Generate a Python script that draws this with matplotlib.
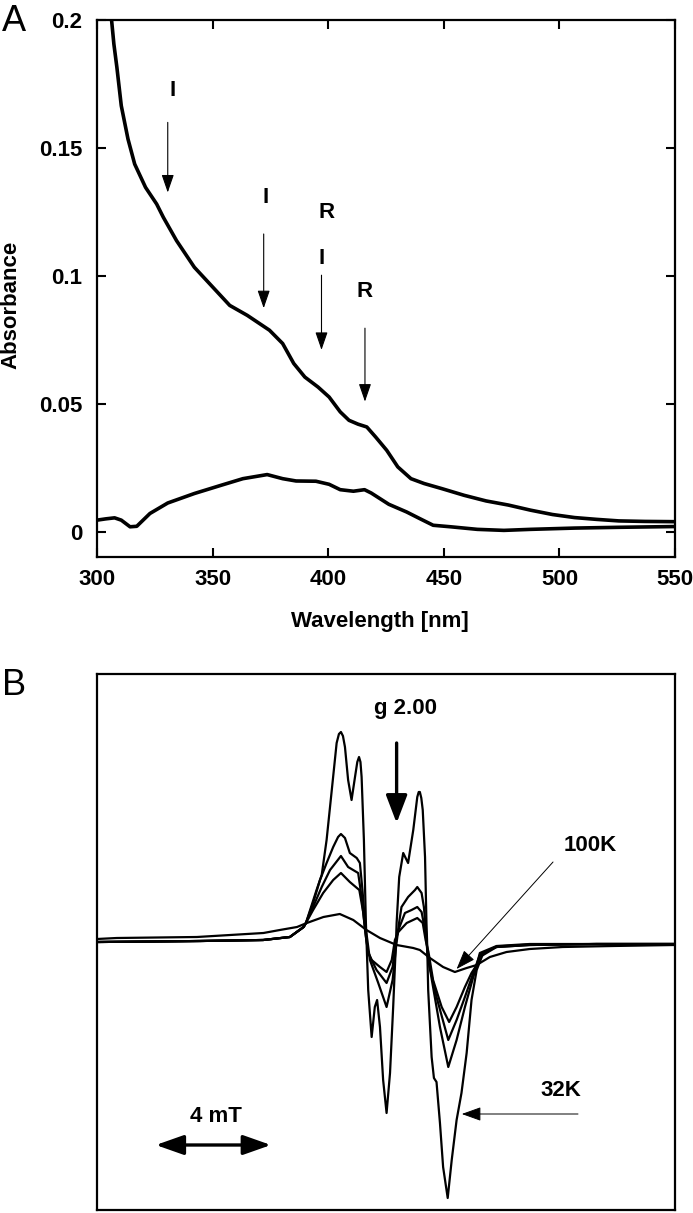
import matplotlib
matplotlib.use('Agg')
import matplotlib.pyplot as plt

plt.rcParams['font.family'] = ['Liberation Sans', 'DejaVu Sans']

# ---------------- Panel A data (UV-vis) ----------------
wl_upper = [305.5, 306.3, 307.3, 308.6, 310.5, 313.4, 316.3, 321.0, 325.8, 328.7, 334.4,
            342.1, 349.7, 357.4, 365.0, 374.6, 380.3, 385.1, 389.9, 395.6, 400.4, 405.2,
            409.0, 412.9, 416.7, 420.5, 425.3, 430.1, 435.8, 441.5, 449.2, 458.8, 468.3,
            477.9, 487.5, 497.0, 506.6, 516.1, 525.7, 537.0, 550.0]
abs_upper = [0.206, 0.200, 0.1906, 0.1815, 0.1665, 0.1535, 0.1437, 0.1346, 0.1281, 0.1229, 0.1138,
             0.1034, 0.0960, 0.0885, 0.0846, 0.0788, 0.0736, 0.0658, 0.0605, 0.0566, 0.0527, 0.0469,
             0.0436, 0.0421, 0.0410, 0.0371, 0.0319, 0.0254, 0.0208, 0.0189, 0.0169, 0.0143, 0.0121,
             0.0105, 0.0085, 0.0068, 0.0056, 0.0049, 0.0043, 0.0041, 0.0040]

wl_lower = [300.0, 303.8, 307.6, 310.5, 314.3, 317.2, 322.9, 330.6, 342.1, 353.6, 363.1,
            373.6, 380.3, 386.1, 394.7, 400.4, 405.2, 410.9, 415.7, 418.6, 426.2, 433.9,
            439.6, 445.4, 453.0, 464.5, 476.0, 487.5, 506.6, 525.7, 550.0]
abs_lower = [0.0046, 0.0051, 0.0055, 0.0046, 0.0020, 0.0022, 0.0072, 0.0113, 0.0150, 0.0182, 0.0208,
             0.0224, 0.0208, 0.0199, 0.0198, 0.0186, 0.0165, 0.0159, 0.0165, 0.0152, 0.0108, 0.0078,
             0.0052, 0.0026, 0.0020, 0.0010, 0.0006, 0.0010, 0.0015, 0.0018, 0.0021]

x_ticks = [300, 350, 400, 450, 500, 550]
x_tick_labels = ['300', '350', '400', '450', '500', '550']
y_ticks = [0, 0.05, 0.1, 0.15, 0.2]
y_tick_labels = ['0', '0.05', '0.1', '0.15', '0.2']

# band markers: label, label x, label y
band_labels = ['I', 'I', 'R', 'I', 'R']
band_label_x = [332.5, 372.7, 399.4, 397.1, 415.9]
band_label_y = [0.1726, 0.1306, 0.1248, 0.1067, 0.0938]
# arrows: x, start y, tip y
band_arrow_x = [330.6, 372.1, 397.1, 415.9]
band_arrow_y0 = [0.160, 0.1164, 0.1003, 0.0796]
band_arrow_y1 = [0.1326, 0.0874, 0.0711, 0.0509]

# ---------------- Panel B data (EPR) ----------------
# field offset from g = 2.00 position (mT), intensity (a.u.)
field_32K = [-10.45, -8.5, -6.86, -4.66, -3.73, -3.25, -3.17, -2.80, -2.62, -2.45, -2.28, -2.10,
             -2.02, -1.95, -1.88, -1.81, -1.70, -1.58, -1.46, -1.38, -1.32, -1.27, -1.23, -1.15,
             -1.08, -1.06, -1.00, -0.88, -0.77, -0.69, -0.59, -0.48, -0.36, -0.24, -0.13, -0.03,
             -0.01, 0.08, 0.22, 0.39, 0.57, 0.71, 0.76, 0.80, 0.85, 0.90, 0.98, 1.03, 1.05, 1.09,
             1.21, 1.29, 1.38, 1.50, 1.61, 1.77, 1.91, 2.08, 2.25, 2.43, 2.60, 2.78, 3.01, 3.47,
             4.63, 6.96, 9.69]
int_32K = [0.00, 0.005, 0.01, 0.02, 0.05, 0.15, 0.19, 0.52, 0.67, 1.02, 1.49, 1.99,
           2.08, 2.10, 2.06, 1.95, 1.62, 1.42, 1.65, 1.80, 1.85, 1.80, 1.65, 1.02,
           0.19, 0.02, -0.48, -0.95, -0.65, -0.58, -0.85, -1.38, -1.71, -1.31, -0.65, 0.02,
           0.19, 0.65, 0.89, 0.79, 1.12, 1.45, 1.50, 1.50, 1.44, 1.32, 0.85, 0.19, 0.02, -0.48,
           -1.15, -1.36, -1.40, -1.81, -2.25, -2.56, -2.18, -1.78, -1.51, -1.11, -0.58, -0.28, -0.11, -0.05,
           -0.03, -0.02, -0.02]

field_i1 = [-10.45, -8.5, -6.86, -4.66, -3.73, -3.25, -3.17, -2.92, -2.68, -2.45, -2.22, -2.05,
            -1.95, -1.81, -1.64, -1.40, -1.29, -1.20, -1.11, -1.03, -0.94, -0.65, -0.36, -0.15,
            -0.03, 0.08, 0.16, 0.39, 0.63, 0.71, 0.86, 0.94, 1.01, 1.08, 1.50, 1.79, 2.08, 2.37,
            2.66, 2.89, 3.47, 4.63, 6.96, 9.69]
int_i1 = [0.00, 0.005, 0.01, 0.02, 0.05, 0.15, 0.19, 0.39, 0.62, 0.79, 0.95, 1.05,
          1.08, 1.04, 0.89, 0.84, 0.79, 0.52, 0.19, 0.02, -0.18, -0.41, -0.65, -0.38,
          -0.05, 0.20, 0.35, 0.45, 0.52, 0.55, 0.49, 0.35, 0.12, -0.15, -0.85, -1.25, -0.98, -0.65,
          -0.35, -0.15, -0.05, -0.03, -0.02, -0.02]

field_i2 = [-10.45, -8.5, -6.86, -4.66, -3.73, -3.25, -3.17, -2.92, -2.62, -2.33, -1.95, -1.70,
            -1.35, -1.23, -1.11, -1.00, -0.71, -0.36, -0.15, -0.03, 0.05, 0.28, 0.51, 0.71,
            0.86, 1.00, 1.09, 1.38, 1.79, 2.08, 2.37, 2.66, 2.89, 3.47, 4.63, 6.96, 9.69]
int_i2 = [0.00, 0.005, 0.01, 0.02, 0.05, 0.15, 0.19, 0.35, 0.55, 0.72, 0.86, 0.75,
          0.69, 0.45, 0.12, -0.11, -0.28, -0.41, -0.25, 0.02, 0.12, 0.29, 0.32, 0.35,
          0.30, 0.09, -0.18, -0.55, -0.98, -0.78, -0.55, -0.31, -0.13, -0.045, -0.025, -0.02, -0.02]

field_i3 = [-10.45, -8.5, -6.86, -4.66, -3.73, -3.25, -3.17, -2.92, -2.57, -2.22, -1.95, -1.64,
            -1.31, -1.17, -1.08, -1.00, -0.88, -0.59, -0.36, -0.18, -0.07, 0.05, 0.34, 0.71,
            0.90, 1.00, 1.10, 1.26, 1.56, 1.82, 2.08, 2.37, 2.60, 2.78, 2.89, 3.47, 4.63, 6.96, 9.69]
int_i3 = [0.00, 0.005, 0.01, 0.02, 0.05, 0.15, 0.19, 0.32, 0.49, 0.62, 0.69, 0.60,
          0.52, 0.29, 0.05, -0.10, -0.18, -0.25, -0.30, -0.18, 0.02, 0.10, 0.19, 0.24,
          0.19, 0.02, -0.10, -0.38, -0.65, -0.80, -0.65, -0.45, -0.31, -0.23, -0.11, -0.04, -0.02, -0.02, -0.02]

field_100K = [-10.45, -9.76, -6.97, -4.65, -4.08, -3.48, -3.14, -2.56, -1.99, -1.52, -1.06, -0.59,
              -0.01, 0.57, 0.80, 1.15, 1.61, 2.02, 2.43, 2.78, 3.24, 3.82, 4.63, 5.78, 7.53, 9.69]
int_100K = [0.03, 0.04, 0.05, 0.09, 0.12, 0.15, 0.19, 0.25, 0.28, 0.22, 0.12, 0.04,
            -0.03, -0.06, -0.08, -0.16, -0.25, -0.30, -0.26, -0.23, -0.15, -0.10, -0.07, -0.05, -0.04, -0.03]

epr_fields = [field_32K, field_i1, field_i2, field_i3, field_100K]
epr_ints = [int_32K, int_i1, int_i2, int_i3, int_100K]

FS = 16
W, H = 693, 1213
fig = plt.figure(figsize=(W / 100, H / 100), dpi=100)

# ---------------- Panel A ----------------
axA = fig.add_axes([97 / W, 1 - 557 / H, 578 / W, 537 / H])
axA.plot(wl_upper, abs_upper, color='black', lw=2.6, solid_joinstyle='round')
axA.plot(wl_lower, abs_lower, color='black', lw=2.6, solid_joinstyle='round')
axA.set_xlim(300, 550)
axA.set_ylim(-0.0098, 0.2)
axA.set_xticks(x_ticks)
axA.set_xticklabels(x_tick_labels)
axA.set_yticks(y_ticks)
axA.set_yticklabels(y_tick_labels)
axA.tick_params(direction='in', length=6.5, width=1.5, top=True, right=True,
                labelsize=FS)
axA.tick_params(axis='y', pad=10.5)
axA.tick_params(axis='x', pad=9)
for lab in axA.get_xticklabels() + axA.get_yticklabels():
    lab.set_fontweight('bold')
for sp in axA.spines.values():
    sp.set_linewidth(1.6)
axA.set_xlabel('Wavelength [nm]', fontsize=FS, fontweight='bold')
axA.xaxis.set_label_coords(0.49, -0.100)
axA.set_ylabel('Absorbance', fontsize=FS, fontweight='bold')
axA.yaxis.set_label_coords(-0.13, 0.47)

for lab, lx, ly in zip(band_labels, band_label_x, band_label_y):
    axA.text(lx, ly, lab, ha='center', va='center', fontsize=FS, fontweight='bold')
for ax_x, y0, y1 in zip(band_arrow_x, band_arrow_y0, band_arrow_y1):
    axA.annotate('', xy=(ax_x, y1), xytext=(ax_x, y0),
                 arrowprops=dict(arrowstyle='-|>,head_length=11,head_width=3.8',
                                 mutation_scale=1, lw=0.8, color='black',
                                 shrinkA=0, shrinkB=0))

fig.text(2 / W, 1 - 31 / H, 'A', fontsize=26, ha='left', va='baseline')

# ---------------- Panel B ----------------
axB = fig.add_axes([97 / W, 1 - 1210 / H, 578 / W, 536 / H])
for fx, iy in zip(epr_fields, epr_ints):
    axB.plot(fx, iy, color='black', lw=1.6, solid_joinstyle='round')
axB.set_xlim(-10.45, 9.69)
axB.set_ylim(-2.68, 2.68)
axB.set_xticks([])
axB.set_yticks([])
for sp in axB.spines.values():
    sp.set_linewidth(1.6)

axB.text(0.31, 2.33, 'g 2.00', ha='center', va='center', fontsize=FS, fontweight='bold')
axB.annotate('', xy=(-0.01, 1.19), xytext=(-0.01, 1.99),
             arrowprops=dict(arrowstyle='-|>,head_length=17,head_width=6.5',
                             mutation_scale=1, lw=2.4, color='black',
                             shrinkA=0, shrinkB=0))
axB.text(6.72, 0.96, '100K', ha='center', va='center', fontsize=FS, fontweight='bold')
axB.annotate('', xy=(2.08, -0.27), xytext=(5.44, 0.80),
             arrowprops=dict(arrowstyle='-|>,head_length=12,head_width=4.3',
                             mutation_scale=1, lw=0.7, color='black',
                             shrinkA=0, shrinkB=0))
axB.text(5.71, -1.49, '32K', ha='center', va='center', fontsize=FS, fontweight='bold')
axB.annotate('', xy=(2.26, -1.72), xytext=(6.31, -1.72),
             arrowprops=dict(arrowstyle='-|>,head_length=12,head_width=4.3',
                             mutation_scale=1, lw=0.7, color='black',
                             shrinkA=0, shrinkB=0))
axB.text(-6.31, -1.75, '4 mT', ha='center', va='center', fontsize=FS, fontweight='bold')
axB.annotate('', xy=(-4.39, -2.03), xytext=(-8.40, -2.03),
             arrowprops=dict(arrowstyle='<|-|>,head_length=17,head_width=6',
                             mutation_scale=1, lw=2.4, color='black',
                             shrinkA=0, shrinkB=0))

fig.text(2 / W, 1 - 695 / H, 'B', fontsize=26, ha='left', va='baseline')

fig.savefig('out.png', dpi=100)
